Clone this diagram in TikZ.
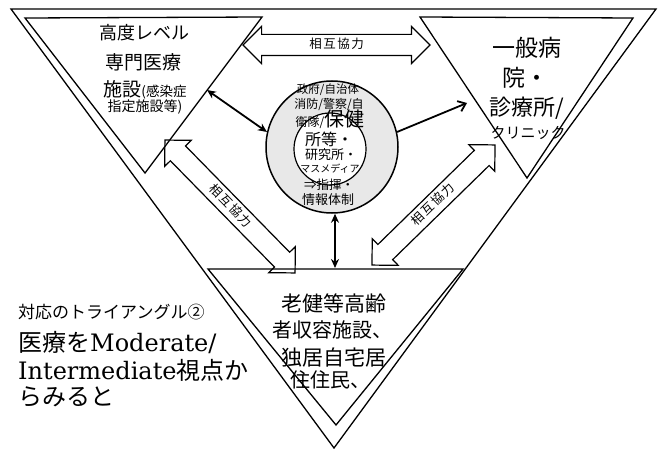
\documentclass[tikz,border=0pt]{standalone}
\usepackage{fontspec}
\setmainfont{Noto Sans CJK JP}
\newfontfamily\latinserif{DejaVu Serif}
\newfontfamily\coopfont[LetterSpace=12]{Noto Sans CJK JP}
\usetikzlibrary{shapes.arrows,arrows.meta}
\newcommand{\fsz}[1]{\fontsize{#1}{#1}\selectfont}
\begin{document}
\begin{tikzpicture}[x=1pt,y=-1pt,
  tri/.style={draw, line width=1.3pt, line join=miter},
  coop/.style={double arrow, draw, line width=1.2pt, double arrow tip angle=90,
    double arrow head extend=8pt, minimum width=0pt, inner xsep=0pt, inner ysep=3.5pt,
    text height=10pt, text depth=3pt, font=\coopfont\fsz{12.5}},
  blk/.style={line width=1.8pt, {Stealth[length=9pt,width=8pt]}-{Stealth[length=9pt,width=8pt]}},
  lbl/.style={inner sep=0pt}
]
\useasboundingbox (0,0) rectangle (661,449);
\fill[white] (0,0) rectangle (661,449);

% triangles
\draw[tri] (11,9) -- (656,9) -- (334,448) -- cycle;
\draw[tri] (25,18) -- (262,17) -- (145,173) -- cycle;
\draw[tri] (420,17) -- (633,18) -- (527,178) -- cycle;
\draw[tri] (208,269) -- (463,269) -- (336,425) -- cycle;

% hub circles
\node[circle, draw, line width=1.5pt, fill=black!9, minimum size=132pt, inner sep=0pt] (hub) at (332,147) {};
\node[circle, draw, line width=1.2pt, fill=white, minimum size=72pt, inner sep=0pt] (core) at (330,149) {};

% cooperation arrows
\node[coop, minimum height=187pt] (ct) at (336.5,45) {相互協力};
\node[coop, rotate=-45.6, minimum height=186pt] (cl) at (230,206.5) {相互協力};
\node[coop, rotate=44.3, minimum height=172pt] (cr) at (433.5,205) {相互協力};

% black arrows
\coordinate (la) at (207,90);
\coordinate (ra) at (467,103);
\coordinate (vt) at (335,268);
\draw[blk] (la) -- (hub.167);
\draw[line width=1.8pt, -{Straight Barb[length=7pt,width=11pt,line width=1.8pt]}] (hub.13) -- (ra);
\draw[blk] (vt |- hub.south) -- (vt);

% left triangle text
\node[lbl] (l1) at (144,33) {\fsz{18}高度レベル};
\node[lbl] (l2) at (143,62) {\fsz{19}専門医療};
\node[lbl, anchor=base] (l3) at (145,97) {\fsz{19}施設\fsz{13.5}(感染症};
\node[lbl] (l4) at (145,107) {\fsz{14}指定施設等)};

% right triangle text
\node[lbl] (r1) at (527,48) {\fsz{23}一般病};
\node[lbl] (r2) at (525,78) {\fsz{23}院・};
\node[lbl] (r3) at (527,108) {\fsz{22}診療所/};
\node[lbl] (r4) at (528,133) {\fsz{15}クリニック};

% hub text
\node[lbl] (c1) at (328,90) {\fsz{11.5}政府/自治体};
\node[lbl] (c2) at (329,105) {\fsz{12}消防/警察/自};
\node[lbl, anchor=base] (c3) at (330,127) {\fsz{12}衛隊/\fsz{20}保健};
\node[lbl] (c4) at (329,139) {\fsz{16}所等・};
\node[lbl] (c5) at (331,155) {\fsz{13}研究所・};
\node[lbl] (c6) at (330,169) {\fsz{10}マスメディア};
\node[lbl] (c7) at (329,185) {\fsz{12.5}⇒指揮・};
\node[lbl] (c8) at (328,200) {\fsz{13}情報体制};

% bottom triangle text
\node[lbl] (b1) at (334,303) {\fsz{21}老健等高齢};
\node[lbl] (b2) at (332,330) {\fsz{20}者収容施設、};
\node[lbl] (b3) at (334,358) {\fsz{21}独居自宅居};
\node[lbl] (b4) at (330,380) {\fsz{20}住住民、};

% left side caption
\node[lbl, anchor=west] (m1) at (18,312) {\fsz{17}対応のトライアングル②};
\node[lbl, anchor=west] (m2) at (18,343) {\fsz{24}医療を{\latinserif Moderate/}};
\node[lbl, anchor=west] (m3) at (18,370) {\fsz{24}{\latinserif Intermediate}視点か};
\node[lbl, anchor=west] (m4) at (18,397) {\fsz{24}らみると};
\end{tikzpicture}
\end{document}
